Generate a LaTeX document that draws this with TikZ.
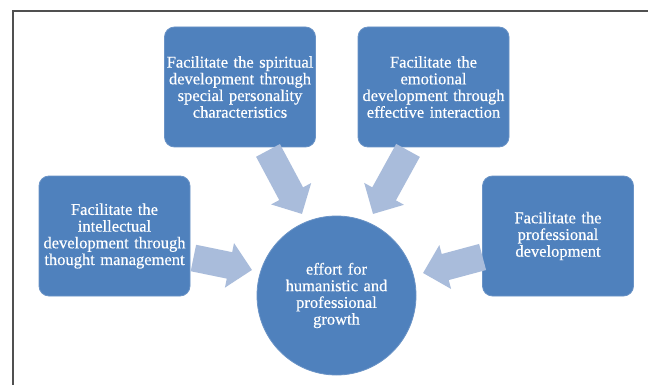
\documentclass[tikz,border=0pt]{standalone}
\usepackage{fontspec}
\setmainfont{Liberation Serif}[WordSpace=0.6, FakeBold=0.4]
\usetikzlibrary{arrows.meta,calc}
\definecolor{boxblue}{HTML}{4F81BD}
\definecolor{boxedge}{HTML}{6A93C6}
\definecolor{arrowblue}{HTML}{A9BCDB}
\definecolor{framegray}{HTML}{505050}
\begin{document}
\begin{tikzpicture}[x=1pt,y=-1pt,
  box/.style={draw=boxedge, line width=0.8pt, fill=boxblue, rounded corners=10pt,
    minimum width=151pt, minimum height=120pt, text width=148pt, align=center,
    text=white, font=\fontsize{16.5}{16.7}\selectfont, inner sep=0pt},
  hub/.style={circle, draw=boxedge, line width=0.8pt, fill=boxblue, minimum size=159pt,
    text width=140pt, align=center, text=white, font=\fontsize{16.5}{16.7}\selectfont, inner sep=0pt},
  blockarrow/.style={draw=arrowblue, line width=27pt, line cap=butt,
    -{Triangle[width=44pt,length=23pt]}},
  frameline/.style={draw=framegray, line width=1.5pt}]
\useasboundingbox (0,0) rectangle (648,385);
\fill[white] (0,0) rectangle (648,385);
\coordinate (fbl) at (13,385);
\coordinate (ftl) at (13,11);
\coordinate (ftr) at (648,11);
\draw[frameline] (fbl) -- (ftl) -- (ftr);

\node[box] (spirit) at (240,87) {Facilitate the spiritual\\development through\\special personality\\characteristics};
\node[box] (emot) at (433.5,87) {Facilitate the\\emotional\\development through\\effective interaction};
\node[box] (intel) at (114.5,236) {Facilitate the\\intellectual\\development through\\thought management};
\node[box] (prof) at (558,236) {Facilitate the\\professional\\development};
\node[hub] (hub) at (336.5,295.5) {effort for\\humanistic and\\professional\\growth};

\draw[blockarrow] ($(spirit.south)+(28,3)$) -- ($(hub.center)+(-34.5,-81.5)$);
\draw[blockarrow] ($(emot.south)+(-25.5,3)$) -- ($(hub.center)+(36.5,-81.5)$);
\draw[blockarrow] ($(intel.east)+(3,22)$) -- ($(hub.center)+(-84.5,-25.5)$);
\draw[blockarrow] ($(prof.west)+(0.5,21)$) -- ($(hub.center)+(86.5,-22.5)$);
\end{tikzpicture}
\end{document}
